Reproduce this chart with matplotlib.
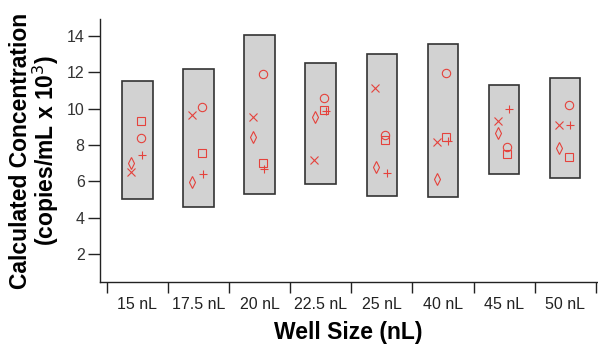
import numpy as np
import matplotlib
matplotlib.use('Agg')
import matplotlib.pyplot as plt
from matplotlib.ticker import FixedLocator

plt.rcParams['font.family'] = ['Liberation Sans', 'DejaVu Sans']

# well sizes and the spread box for each one
well_sizes = ['15 nL', '17.5 nL', '20 nL', '22.5 nL', '25 nL', '40 nL', '45 nL', '50 nL']
box_low = [5.02, 4.61, 5.29, 5.84, 5.21, 5.13, 6.42, 6.17]
box_high = [11.53, 12.18, 14.04, 12.49, 13.00, 13.53, 11.30, 11.66]

# individual runs (copies/mL x 10^3)
run_x = [6.53, 9.65, 9.56, 7.16, 11.12, 8.18, 9.34, 9.08]
run_diamond = [6.99, 5.98, 8.46, 9.52, 6.77, 6.12, 8.68, 7.82]
run_circle = [8.40, 10.09, 11.92, 10.57, 8.55, 11.97, 7.91, 10.18]
run_square = [9.32, 7.58, 7.03, 9.92, 8.27, 8.46, 7.51, 7.32]
run_plus = [7.45, 6.39, 6.68, 9.88, 6.45, 8.20, 9.96, 9.08]

red = '#e5423c'
pos = np.arange(len(well_sizes))

fig = plt.figure(figsize=(5.98, 3.46), dpi=100)
ax = fig.add_axes([100 / 598, 1 - 282 / 346, 497 / 598, (282 - 19) / 346])

ax.bar(pos, np.array(box_high) - np.array(box_low), bottom=box_low, width=0.5,
       color='#d2d2d2', edgecolor='#333333', linewidth=1.2, zorder=1)

# marker series: values, marker, horizontal offset, size
series = [
    (run_x, 'x', -0.105, 5.8),
    (run_diamond, 'd', -0.10, 5.8),
    (run_circle, 'o', 0.055, 6),
    (run_square, 's', 0.055, 6),
    (run_plus, '+', 0.08, 6.2),
]
for vals, mk, dx, ms in series:
    ax.plot(pos + dx, vals, linestyle='none', marker=mk, markersize=ms,
            markerfacecolor='none', markeredgecolor=red, markeredgewidth=0.8, zorder=3)

ax.set_xlim(-0.61, 7.52)
ax.set_ylim(0.46, 14.93)

ax.set_yticks([2, 4, 6, 8, 10, 12, 14])
ax.tick_params(axis='y', direction='out', length=9, width=1.0, color='#222222',
               labelsize=11.5, labelcolor='#333333', pad=2)

ax.set_xticks(pos)
ax.set_xticklabels(well_sizes)
ax.xaxis.set_minor_locator(FixedLocator(np.arange(-0.5, 8, 1.0)))
ax.tick_params(axis='x', which='major', length=0, labelsize=11.5,
               labelcolor='#222222', pad=11)
ax.tick_params(axis='x', which='minor', direction='out', length=8, width=1.0,
               color='#222222')

for side in ['top', 'right']:
    ax.spines[side].set_visible(False)
for side in ['left', 'bottom']:
    ax.spines[side].set_linewidth(1.0)
    ax.spines[side].set_color('#222222')

ax.set_ylabel('Calculated Concentration\n(copies/mL x 10$^3$)', fontsize=16.5,
              fontweight='bold', labelpad=4, linespacing=0.95)
ax.set_xlabel('Well Size (nL)', fontsize=16.5, fontweight='bold', labelpad=6)

fig.savefig('out.png', dpi=100)
